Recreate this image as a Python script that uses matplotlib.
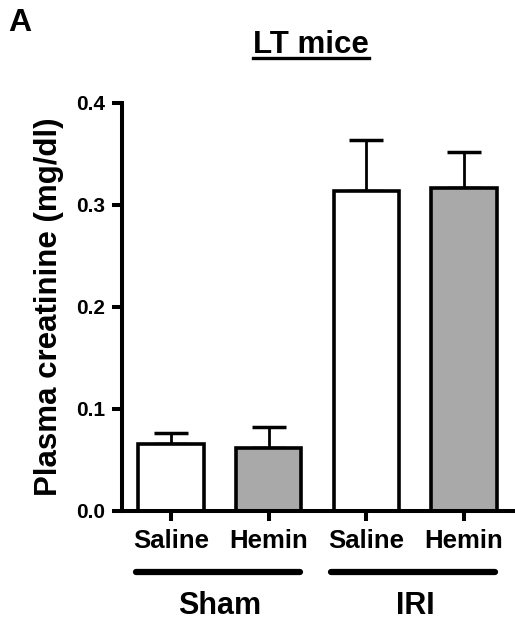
import numpy as np
import matplotlib.pyplot as plt
from matplotlib.lines import Line2D

plt.rcParams['font.family'] = ['Liberation Sans', 'DejaVu Sans']
plt.rcParams['font.weight'] = 'bold'

# dati
treatments = ['Saline', 'Hemin', 'Saline', 'Hemin']
groups = ['Sham', 'IRI']
means = [0.066, 0.062, 0.314, 0.316]
sems = [0.010, 0.020, 0.049, 0.036]
colors = ['white', '#a9a9a9', 'white', '#a9a9a9']
yticks = [0.0, 0.1, 0.2, 0.3, 0.4]

fig = plt.figure(figsize=(5.15, 6.23), dpi=100)
ax = fig.add_axes([0.2369, 0.1798, 0.7592, 0.6553])

x = np.arange(len(means))
lower = np.zeros(len(means))
ax.errorbar(x, means, yerr=[lower, sems], fmt='none', ecolor='black',
            elinewidth=2, capsize=12.5, capthick=2.5, zorder=1)
ax.bar(x, means, width=0.67, color=colors, edgecolor='black',
       linewidth=2.6, zorder=2)

ax.set_xlim(-0.5, 3.5)
ax.set_ylim(0, 0.4)
ax.set_yticks(yticks)
ax.set_yticklabels([f'{t:.1f}' for t in yticks], fontsize=15, fontweight='bold')
ax.set_xticks(x)
ax.set_xticklabels(treatments, fontsize=18.5, fontweight='bold')

for s in ['top', 'right']:
    ax.spines[s].set_visible(False)
for s in ['left', 'bottom']:
    ax.spines[s].set_linewidth(2.9)
ax.tick_params(axis='y', length=7, width=2.9, pad=5, direction='out')
ax.tick_params(axis='x', length=7, width=2.9, pad=6, direction='out')

ax.set_ylabel('Plasma creatinine (mg/dl)', fontsize=22.5, fontweight='bold',
               labelpad=9)

# linee dei gruppi e nomi sotto
trans = ax.get_xaxis_transform()
for i, g in enumerate(groups):
    x0 = x[2 * i] - 0.36
    x1 = x[2 * i + 1] + 0.32
    ax.plot([x0, x1], [-0.149, -0.149], color='black', lw=4.5,
            solid_capstyle='round', transform=trans, clip_on=False)
    ax.text((x[2 * i] + x[2 * i + 1]) / 2, -0.232, g, transform=trans,
            ha='center', va='center', fontsize=22, fontweight='bold')

# titolo sottolineato
title = fig.text(0.604, 0.927, 'LT mice', ha='center', va='center',
                 fontsize=22.5, fontweight='bold')
fig.text(0.016, 0.963, 'A', ha='left', va='center', fontsize=23,
         fontweight='bold')

fig.canvas.draw()
bb = title.get_window_extent().transformed(fig.transFigure.inverted())
uy = bb.y0 + 0.004
fig.add_artist(Line2D([bb.x0, bb.x1], [uy, uy], transform=fig.transFigure,
                      color='black', lw=2.4))

fig.savefig('out.png', dpi=100)
